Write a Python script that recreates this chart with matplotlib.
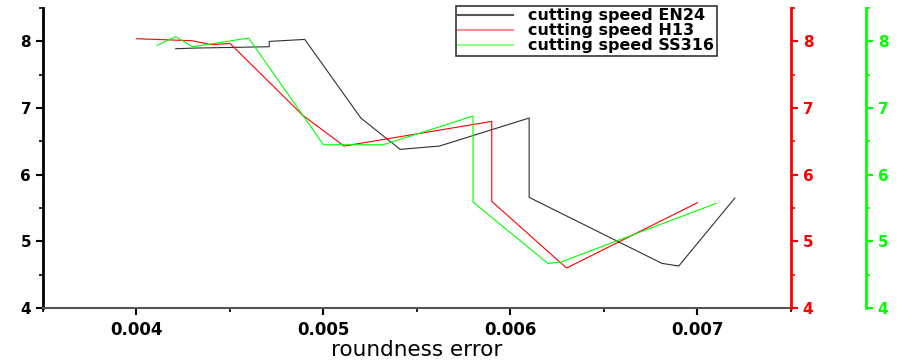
import numpy as np
import matplotlib
matplotlib.use('Agg')
import matplotlib.pyplot as plt
from matplotlib.lines import Line2D

# roundness error vs cutting speed
en24_x = [0.00421, 0.00431, 0.00471, 0.00471, 0.00490, 0.00520, 0.00541, 0.00562, 0.00610, 0.00610, 0.00681, 0.00690, 0.00720]
en24_y = [7.89, 7.90, 7.92, 8.00, 8.03, 6.85, 6.38, 6.43, 6.85, 5.66, 4.67, 4.63, 5.65]

h13_x = [0.00400, 0.00430, 0.00440, 0.00450, 0.00489, 0.00511, 0.00590, 0.00590, 0.00630, 0.00700]
h13_y = [8.04, 8.01, 7.95, 7.97, 6.89, 6.43, 6.80, 5.60, 4.60, 5.58]

ss316_x = [0.00411, 0.00421, 0.00430, 0.00460, 0.00500, 0.00510, 0.00532, 0.00580, 0.00580, 0.00620, 0.00627, 0.00710]
ss316_y = [7.94, 8.07, 7.92, 8.05, 6.45, 6.45, 6.45, 6.88, 5.59, 4.67, 4.69, 5.57]

labels = ['cutting speed EN24', 'cutting speed H13', 'cutting speed SS316']
colors = ['#303030', '#ff0000', '#00ff00']

plt.rcParams['font.family'] = 'DejaVu Sans'

fig = plt.figure(figsize=(8.99, 3.64), dpi=100)
ax = fig.add_axes([0.0478, 0.1538, 0.832, 0.824])
ax2 = ax.twinx()
ax3 = ax.twinx()

ax.plot(en24_x, en24_y, color=colors[0], lw=0.8)
ax2.plot(h13_x, h13_y, color=colors[1], lw=0.8)
ax3.plot(ss316_x, ss316_y, color=colors[2], lw=0.8)

for a in (ax, ax2, ax3):
    a.set_ylim(4, 8.5)
    a.set_yticks([4, 5, 6, 7, 8])
    a.set_yticks(np.arange(4.5, 8.6, 1.0), minor=True)
    a.spines['top'].set_visible(False)
ax.set_xlim(0.0035, 0.0075)
ax.set_xticks([0.004, 0.005, 0.006, 0.007])
ax.set_xticklabels(['0.004', '0.005', '0.006', '0.007'])
ax.set_xticks(np.arange(0.0035, 0.00751, 0.001), minor=True)

ax.spines['right'].set_visible(False)
ax.spines['left'].set_linewidth(2)
ax.spines['bottom'].set_linewidth(1.5)
ax.spines['bottom'].set_color('#555555')
ax.tick_params(axis='both', which='major', length=5, width=1.5, direction='out')
ax.tick_params(axis='both', which='minor', length=3, width=1.2, direction='out')
ax.tick_params(axis='y', labelsize=11)
ax.tick_params(axis='x', labelsize=12, pad=4)
for t in ax.get_xticklabels() + ax.get_yticklabels():
    t.set_fontweight('bold')

for a, c, pos in ((ax2, colors[1], 1.0), (ax3, colors[2], 1.1003)):
    a.spines['left'].set_visible(False)
    a.spines['bottom'].set_visible(False)
    a.spines['right'].set_position(('axes', pos))
    a.spines['right'].set_color(c)
    a.spines['right'].set_linewidth(2)
    a.tick_params(axis='y', which='major', colors=c, length=5, width=1.5, labelsize=11)
    a.tick_params(axis='y', which='minor', colors=c, length=3, width=1.2)
    for t in a.get_yticklabels():
        t.set_fontweight('bold')

ax.set_xlabel('roundness error', fontsize=15.5, labelpad=1)

handles = [Line2D([], [], color=c, lw=1.5, alpha=0.45 if i else 0.8) for i, c in enumerate(colors)]
leg = ax3.legend(handles, labels, loc='upper right', bbox_to_anchor=(0.901, 1.007),
                 borderaxespad=0, fancybox=False, prop={'size': 11.5, 'weight': 'bold'},
                 handlelength=3.4, labelspacing=0.0, borderpad=0.15, handletextpad=1.0,
                 framealpha=1)
leg.get_frame().set_edgecolor('#333333')
leg.get_frame().set_linewidth(1.2)

fig.savefig('out.png', dpi=100)
